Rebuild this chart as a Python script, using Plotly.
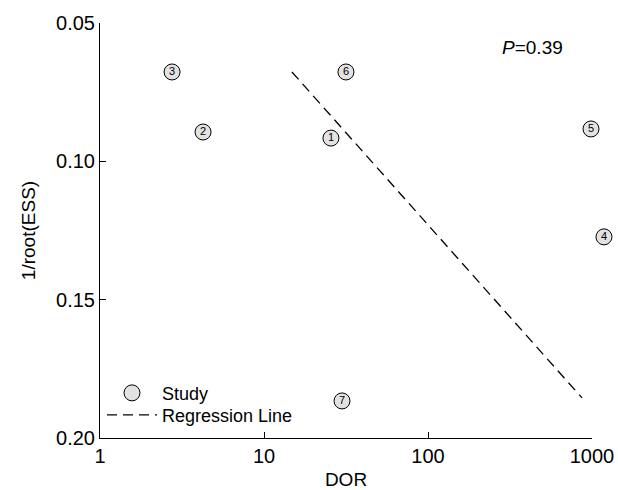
import plotly.graph_objects as go

study_ids = ["1", "2", "3", "4", "5", "6", "7"]
dor = [25.6, 4.25, 2.75, 1183, 986, 31.6, 29.9]
inv_root_ess = [0.0916, 0.0894, 0.0677, 0.1273, 0.0883, 0.0677, 0.1866]
reg_x = [14.8, 869]
reg_y = [0.0677, 0.1855]
p_label = "<i>P</i>=0.39"

font_family = "Liberation Sans, Arial, Helvetica, sans-serif"

W, H = 618, 490
L, T, B = 100, 23, 52
axis_right = 592
plot_w = W - L
dom_end = (axis_right - L) / plot_w

fig = go.Figure()
fig.add_trace(go.Scatter(
    x=reg_x, y=reg_y, mode="lines", xaxis="x", yaxis="y",
    line=dict(color="black", width=1.3, dash="10px,6px"),
    name="Regression Line", legend="legend2",
))
fig.add_trace(go.Scatter(
    x=dor, y=inv_root_ess, mode="markers+text", text=study_ids,
    xaxis="x2", yaxis="y",
    textposition="middle center", cliponaxis=False,
    textfont=dict(size=11, color="black", family=font_family),
    marker=dict(size=16, color="#e2e2e2", line=dict(color="black", width=1)),
    name="Study", legend="legend",
))
fig.add_annotation(x=(565 - L) / plot_w, y=0.94, xref="paper", yref="paper", text=p_label,
                   showarrow=False, font=dict(size=19, color="black", family=font_family),
                   xanchor="right", yanchor="middle")

fig.update_layout(
    width=W, height=H,
    margin=dict(l=L, r=0, t=T, b=B),
    paper_bgcolor="white", plot_bgcolor="rgba(0,0,0,0)",
    font=dict(family=font_family, size=19, color="black"),
    showlegend=True,
    legend=dict(x=2 / plot_w, y=0.108, xanchor="left", yanchor="middle",
                bgcolor="rgba(0,0,0,0)", font=dict(size=18), itemwidth=50),
    legend2=dict(x=2 / plot_w, y=0.055, xanchor="left", yanchor="middle",
                 bgcolor="rgba(0,0,0,0)", font=dict(size=18), itemwidth=50),
    xaxis=dict(type="log", range=[0, 3], domain=[0, dom_end],
               tickvals=[1, 10, 100, 1000],
               ticktext=["1", "10", "100", "1000"], automargin=False,
               showgrid=False, zeroline=False, showline=True, linecolor="black",
               linewidth=1, ticks="inside", ticklen=6, tickcolor="black",
               title=dict(text="DOR", standoff=9, font=dict(size=19)),
               tickfont=dict(size=20)),
    xaxis2=dict(type="log", range=[0, 3 / dom_end], domain=[0, 1], anchor="y",
                visible=False, showgrid=False, zeroline=False),
    yaxis=dict(range=[0.2, 0.05], tickvals=[0.05, 0.10, 0.15, 0.20],
               ticktext=["0.05", "0.10", "0.15", "0.20"], automargin=False,
               showgrid=False, zeroline=False, showline=True, linecolor="black",
               linewidth=1, ticks="inside", ticklen=6, tickcolor="black",
               title=dict(text="1/root(ESS)", standoff=15, font=dict(size=19)),
               tickfont=dict(size=20)),
)

fig.write_html("out.html", config={"displayModeBar": False},
               post_script="document.body.style.margin='0';document.body.style.overflow='hidden';")
